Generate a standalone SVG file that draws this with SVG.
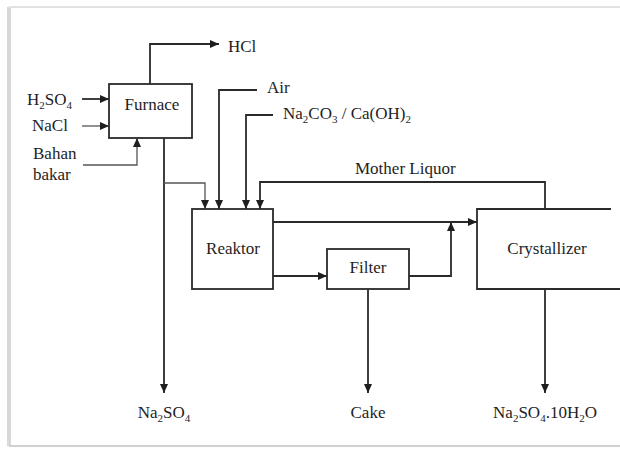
<svg xmlns="http://www.w3.org/2000/svg" width="620" height="449" viewBox="0 0 620 449">
<defs>
<marker id="ah" markerUnits="userSpaceOnUse" markerWidth="10" markerHeight="8" refX="9" refY="4" orient="auto">
<path d="M0,0 L9,4 L0,8 Z" fill="#1e1e1e"/>
</marker>
<style>
.box{fill:#fff;stroke:#2a2a2a;stroke-width:1.8}
.ln{fill:none;stroke:#2a2a2a;stroke-width:1.8}
.lt{fill:none;stroke:#555;stroke-width:1.3}
.ar{marker-end:url(#ah)}
text{font-size:17px;fill:#1e1e1e}
.c{text-anchor:middle}
.s{font-size:11px}
</style>
</defs>
<rect x="0" y="0" width="620" height="449" fill="#fff"/>
<g id="frame">
<line x1="9" y1="7" x2="9" y2="446" stroke="#d8d8d8" stroke-width="4"/>
<line x1="9" y1="7" x2="620" y2="7" stroke="#e2e2e2" stroke-width="2"/>
<line x1="9" y1="446" x2="620" y2="446" stroke="#d0d0d0" stroke-width="2"/>
</g>
<g id="connectors">
<polyline class="ln ar" points="150,84 150,44 219,44"/>
<line class="ln ar" x1="82" y1="99" x2="109" y2="99"/>
<line class="lt ar" x1="82" y1="126" x2="109" y2="126"/>
<polyline class="lt ar" points="83,165 137,165 137,138"/>
<line class="ln ar" x1="164" y1="138" x2="164" y2="393"/>
<polyline class="lt ar" points="164,183 205,183 205,209"/>
<polyline class="ln ar" points="257,90 219,90 219,209"/>
<polyline class="ln ar" points="273,115 246,115 246,209"/>
<polyline class="ln ar" points="545,209 545,182 260,182 260,209"/>
<line class="ln ar" x1="273" y1="222" x2="477" y2="222"/>
<line class="ln ar" x1="273" y1="276" x2="327" y2="276"/>
<polyline class="ln ar" points="409,276 451,276 451,222"/>
<line class="ln ar" x1="368" y1="289" x2="368" y2="393"/>
<line class="ln ar" x1="545" y1="289" x2="545" y2="393"/>
</g>
<g id="furnace">
<rect class="box" x="109" y="84" width="83" height="54"/>
<text class="c" x="152" y="110" font-family="Liberation Serif, Tinos, DejaVu Serif, serif">Furnace</text>
</g>
<g id="reaktor">
<rect class="box" x="192" y="209" width="81" height="80"/>
<text class="c" x="233" y="254" font-family="Liberation Serif, Tinos, DejaVu Serif, serif">Reaktor</text>
</g>
<g id="filter">
<rect class="box" x="327" y="249" width="82" height="40"/>
<text class="c" x="368" y="273" font-family="Liberation Serif, Tinos, DejaVu Serif, serif">Filter</text>
</g>
<g id="crystallizer">
<rect x="477" y="209" width="143" height="80" fill="#fff"/>
<polyline class="ln" points="611,209 477,209 477,289 620,289"/>
<text class="c" x="547" y="254" font-family="Liberation Serif, Tinos, DejaVu Serif, serif">Crystallizer</text>
</g>
<g id="labels" font-family="Liberation Serif, Tinos, DejaVu Serif, serif">
<text x="228" y="52">HCl</text>
<text x="27" y="105">H<tspan class="s" dy="4">2</tspan><tspan dy="-4">SO</tspan><tspan class="s" dy="4">4</tspan></text>
<text x="32" y="131">NaCl</text>
<text x="33" y="159">Bahan</text>
<text x="33" y="180">bakar</text>
<text x="267" y="93">Air</text>
<text x="283" y="119">Na<tspan class="s" dy="4">2</tspan><tspan dy="-4">CO</tspan><tspan class="s" dy="4">3</tspan><tspan dy="-4"> / Ca(OH)</tspan><tspan class="s" dy="4">2</tspan></text>
<text x="355" y="174">Mother Liquor</text>
<text class="c" x="164" y="418">Na<tspan class="s" dy="4">2</tspan><tspan dy="-4">SO</tspan><tspan class="s" dy="4">4</tspan></text>
<text class="c" x="368" y="418">Cake</text>
<text class="c" x="545" y="418">Na<tspan class="s" dy="4">2</tspan><tspan dy="-4">SO</tspan><tspan class="s" dy="4">4</tspan><tspan dy="-4">.10H</tspan><tspan class="s" dy="4">2</tspan><tspan dy="-4">O</tspan></text>
</g>
</svg>
